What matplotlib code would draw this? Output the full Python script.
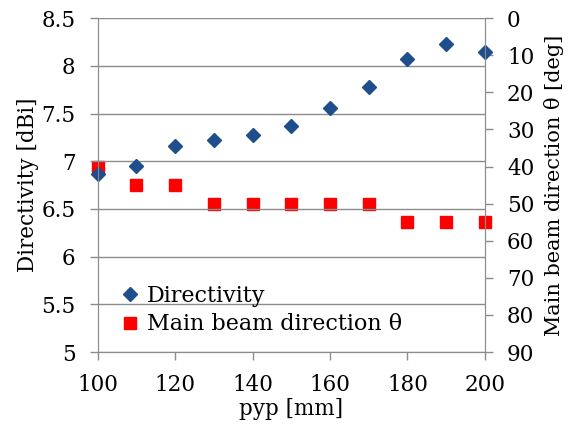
import matplotlib.pyplot as plt

plt.rcParams['font.family'] = ['DejaVu Serif']

pyp = [100, 110, 120, 130, 140, 150, 160, 170, 180, 190, 200]
directivity = [6.87, 6.95, 7.16, 7.22, 7.27, 7.37, 7.56, 7.78, 8.07, 8.23, 8.15]
theta = [40, 45, 45, 50, 50, 50, 50, 50, 55, 55, 55]

grid_c = '#8c8c8c'

fig = plt.figure(figsize=(5.82, 4.32), dpi=100)
ax = fig.add_axes([0.168, 0.185, 0.665, 0.773])
ax2 = ax.twinx()

# directivity markers drawn on top of the theta markers
ax.set_zorder(ax2.get_zorder() + 1)
ax.patch.set_visible(False)

ax2.plot(pyp, theta, 's', color='#ff0000', ms=8.8, mec='#ff0000',
         label='Main beam direction θ', clip_on=False)
ax.plot(pyp, directivity, 'D', color='#1f4e8c', ms=7.5, mec='#1f4e8c',
        label='Directivity', clip_on=False)

ax.set_xlim(100, 200)
ax.set_ylim(5, 8.5)
ax2.set_ylim(90, 0)
ax.set_xticks(range(100, 201, 20))
ax.set_yticks([5, 5.5, 6, 6.5, 7, 7.5, 8, 8.5])
ax.set_yticklabels(['5', '5.5', '6', '6.5', '7', '7.5', '8', '8.5'])
ax2.set_yticks(range(0, 91, 10))

ax.grid(axis='y', color=grid_c, linewidth=1)
for a in (ax, ax2):
    for s in a.spines.values():
        s.set_color(grid_c)
    a.spines['top'].set_visible(False)
    a.tick_params(colors=grid_c, labelcolor='black', labelsize=15.5,
                  length=6, width=1, direction='out')
ax.tick_params(axis='y', pad=10)
ax2.tick_params(axis='y', pad=10)
ax.tick_params(axis='x', pad=10)

ax.set_xlabel('pyp [mm]', fontsize=15.5, labelpad=1)
ax.set_ylabel('Directivity [dBi]', fontsize=15.5, labelpad=2)
ax2.set_ylabel('Main beam direction θ [deg]', fontsize=15, rotation=90, labelpad=7)

h1, l1 = ax.get_legend_handles_labels()
h2, l2 = ax2.get_legend_handles_labels()
ax.legend(h1 + h2, l1 + l2, loc='lower left', bbox_to_anchor=(0.06, 0.05),
          frameon=False, fontsize=16, handlelength=0.8, handletextpad=0.35,
          labelspacing=0.3, borderaxespad=0, borderpad=0)

fig.savefig('out.png', dpi=100)
